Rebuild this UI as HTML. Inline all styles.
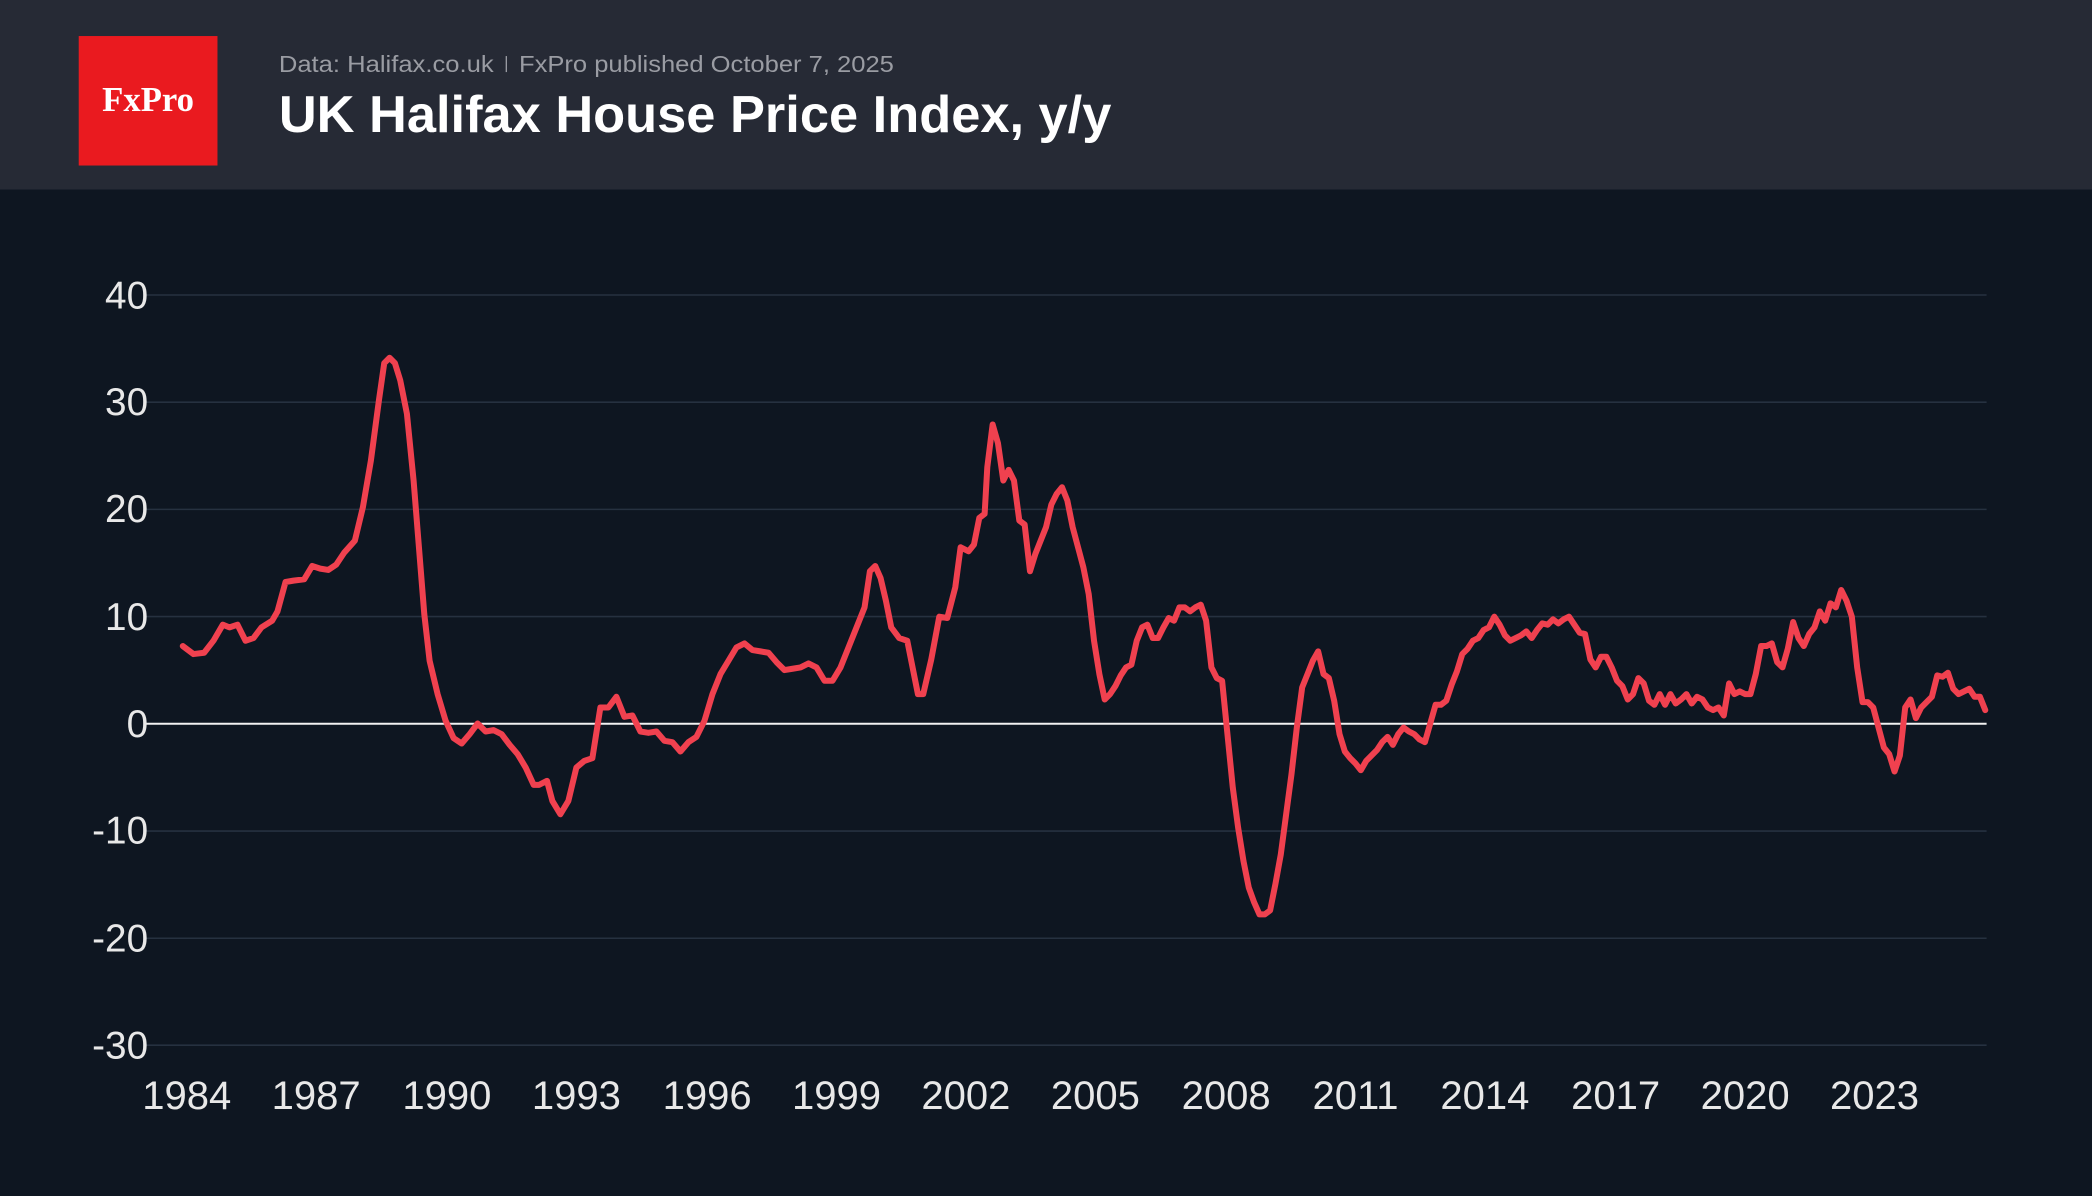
<!DOCTYPE html>
<html><head><meta charset="utf-8"><style>
html,body{margin:0;padding:0;background:#0e1621;}
svg{display:block;}
</style></head><body>
<svg width="2092" height="1196" viewBox="0 0 1568 896" preserveAspectRatio="none" xmlns="http://www.w3.org/2000/svg">
<rect x="0" y="0" width="1568" height="896" fill="#0e1621"/>
<rect x="0" y="0" width="1568" height="142" fill="#262a35"/>
<rect x="59" y="27" width="104" height="97" fill="#ea1a1f"/>
<text x="111" y="83" text-anchor="middle" font-family="Liberation Serif, serif" font-weight="bold" font-size="26" fill="#fff">FxPro</text>
<text x="209" y="54" font-family="Liberation Sans, sans-serif" font-size="17" fill="#9a9ca3" textLength="161" lengthAdjust="spacingAndGlyphs">Data: Halifax.co.uk</text>
<rect x="379" y="42" width="1" height="12" fill="#9a9ca3"/>
<text x="389" y="54" font-family="Liberation Sans, sans-serif" font-size="17" fill="#9a9ca3" textLength="281" lengthAdjust="spacingAndGlyphs">FxPro published October 7, 2025</text>
<text x="209" y="99" font-family="Liberation Sans, sans-serif" font-size="39" font-weight="bold" fill="#ffffff" textLength="624" lengthAdjust="spacingAndGlyphs">UK Halifax House Price Index, y/y</text>
<g stroke="#263140" stroke-width="1.2">
<line x1="108" y1="221" x2="1489" y2="221"/>
<line x1="108" y1="301.3" x2="1489" y2="301.3"/>
<line x1="108" y1="381.6" x2="1489" y2="381.6"/>
<line x1="108" y1="461.9" x2="1489" y2="461.9"/>
<line x1="108" y1="622.6" x2="1489" y2="622.6"/>
<line x1="108" y1="702.9" x2="1489" y2="702.9"/>
<line x1="108" y1="783" x2="1489" y2="783"/>
</g>
<line x1="108" y1="542.2" x2="1489" y2="542.2" stroke="#f2f2f2" stroke-width="1.5"/>
<g font-family="Liberation Sans, sans-serif" font-size="29" fill="#e8e8e8" text-anchor="end">
<text x="111" y="231">40</text><text x="111" y="311">30</text><text x="111" y="391">20</text>
<text x="111" y="472">10</text><text x="111" y="552">0</text><text x="111" y="632">-10</text>
<text x="111" y="713">-20</text><text x="111" y="793">-30</text>
</g>
<g font-family="Liberation Sans, sans-serif" font-size="30" fill="#e8e8e8" text-anchor="middle">
<text x="140" y="831">1984</text><text x="237" y="831">1987</text><text x="335" y="831">1990</text>
<text x="432" y="831">1993</text><text x="530" y="831">1996</text><text x="627" y="831">1999</text>
<text x="724" y="831">2002</text><text x="821" y="831">2005</text><text x="919" y="831">2008</text>
<text x="1016" y="831">2011</text><text x="1113" y="831">2014</text><text x="1211" y="831">2017</text>
<text x="1308" y="831">2020</text><text x="1405" y="831">2023</text>
</g>
<polyline fill="none" stroke="#f0414f" stroke-width="4.5" stroke-linejoin="round" stroke-linecap="round" points="137,484 145,490 153,489 160,480 167,468 172,470 178,468 184,480 190,478 196,470 204,465 208,458 214,436 220,435 228,434 234,424 240,426 246,427 252,423 258,414 266,405 272,380 278,345 284,300 288,272 292,268 296,272 300,285 305,310 310,360 314,410 318,460 322,495 328,520 334,540 340,553 346,557 352,550 358,542 364,548 370,547 376,550 382,558 388,565 394,575 400,588 404,588 410,585 414,600 420,610 426,600 432,575 438,570 444,568 450,530 456,530 462,522 468,537 474,536 480,548 486,549 492,548 498,555 504,556 510,563 516,556 522,552 528,540 534,520 540,505 546,495 552,485 558,482 564,487 570,488 576,489 582,496 588,502 594,501 600,500 606,497 612,500 618,510 624,510 630,500 636,485 642,470 648,455 652,428 656,424 660,433 664,450 668,470 674,478 680,480 684,500 688,520 692,520 698,494 704,462 710,463 716,440 720,410 726,413 730,408 734,388 738,385 740,350 744,318 748,332 752,360 756,352 760,360 764,390 768,393 772,428 776,415 780,405 784,395 788,378 792,370 796,365 800,375 804,395 808,410 812,425 816,445 820,480 824,505 828,524 832,520 836,514 840,506 844,500 848,498 852,480 856,470 860,468 864,478 868,478 872,470 876,463 880,465 884,455 888,455 892,458 896,455 900,453 904,465 908,500 912,508 916,510 920,550 924,590 928,620 932,645 936,665 940,676 944,685 948,685 952,682 956,662 960,640 964,610 968,580 972,545 976,515 980,505 984,495 988,488 992,505 996,508 1000,525 1004,550 1008,563 1012,568 1016,572 1020,577 1024,570 1028,566 1032,562 1036,556 1040,552 1044,558 1048,550 1052,545 1056,548 1060,550 1064,554 1068,556 1072,542 1076,528 1080,528 1084,525 1088,513 1092,503 1096,490 1100,486 1104,480 1108,478 1112,472 1116,470 1120,462 1124,468 1128,476 1132,480 1136,478 1140,476 1144,473 1148,478 1152,472 1156,467 1160,468 1164,464 1168,467 1172,464 1176,462 1180,468 1184,474 1188,475 1192,494 1196,500 1200,492 1204,492 1208,500 1212,510 1216,514 1220,524 1224,520 1228,508 1232,512 1236,525 1240,528 1244,520 1248,528 1252,520 1256,527 1260,524 1264,520 1268,527 1272,522 1276,524 1280,530 1284,532 1288,530 1292,536 1296,512 1300,520 1304,518 1308,520 1312,520 1316,505 1320,484 1324,484 1328,482 1332,496 1336,500 1340,486 1344,466 1348,478 1352,484 1356,475 1360,470 1364,458 1368,465 1372,452 1376,455 1380,442 1384,450 1388,462 1392,500 1396,526 1400,526 1404,530 1408,545 1412,560 1416,565 1420,578 1424,566 1428,530 1432,524 1436,538 1440,530 1444,526 1448,522 1452,506 1456,507 1460,504 1464,516 1468,520 1472,518 1476,516 1480,522 1484,522 1488,532"/>
</svg>
</body></html>
